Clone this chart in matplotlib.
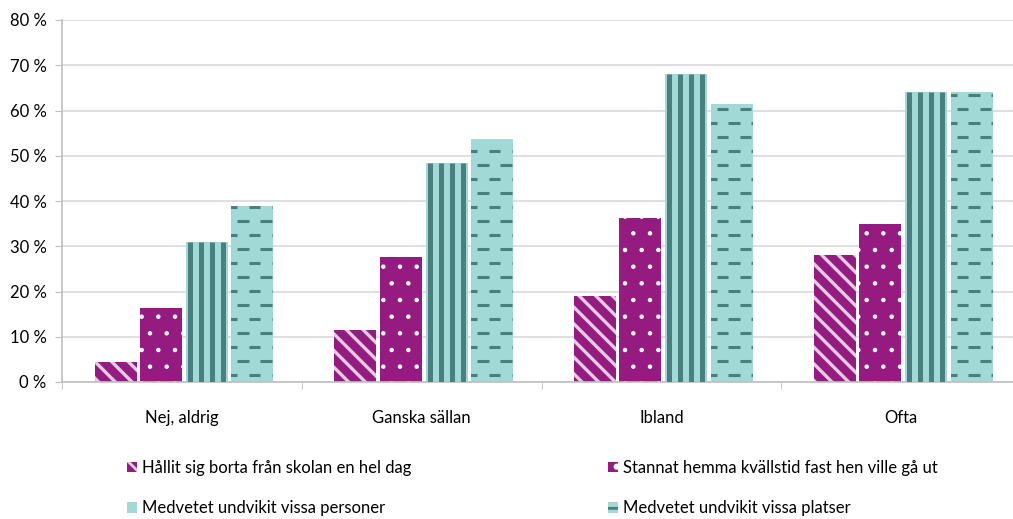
import numpy as np
import matplotlib
matplotlib.use("Agg")
import matplotlib.pyplot as plt
from matplotlib.patches import Patch
from matplotlib.collections import LineCollection

plt.rcParams['font.family'] = ['Lato', 'DejaVu Sans']

# data
kategorier = ["Nej, aldrig", "Ganska sällan", "Ibland", "Ofta"]
hallit_borta = [4.5, 11.5, 19.0, 28.0]
stannat_hemma = [16.3, 27.6, 36.3, 35.0]
undvikit_personer = [31.0, 48.5, 68.0, 64.0]
undvikit_platser = [39.0, 53.7, 61.5, 64.0]
etiketter = ["Hållit sig borta från skolan en hel dag",
             "Stannat hemma kvällstid fast hen ville gå ut",
             "Medvetet undvikit vissa personer",
             "Medvetet undvikit vissa platser"]

lila = "#951B81"
lila_ljus = "#E4CCE2"
teal_ljus = "#A0D9D5"
teal_mork = "#4A7F80"

fig = plt.figure(figsize=(10.13, 5.19), dpi=100)
ax = fig.add_axes([62 / 1013, 1 - 382 / 519, 959 / 1013, 362 / 519])

x = np.arange(len(kategorier))
w = 0.175
offs = [-0.276, -0.088, 0.104, 0.294]

plt.rcParams['hatch.linewidth'] = 2.4
b1 = ax.bar(x + offs[0], hallit_borta, w, color=lila, edgecolor=lila_ljus,
            hatch="\\\\", linewidth=0, zorder=2)
plt.rcParams['hatch.linewidth'] = 0.8
b2 = ax.bar(x + offs[1], stannat_hemma, w, color=lila, edgecolor="white",
            hatch=".", linewidth=0, zorder=2)
b3 = ax.bar(x + offs[2], undvikit_personer, w, color=teal_ljus, linewidth=0, zorder=2)
b4 = ax.bar(x + offs[3], undvikit_platser, w, color=teal_ljus, linewidth=0, zorder=2)

# vertikala ränder
for rect in b3:
    x0 = rect.get_x()
    h = rect.get_height()
    segs = [[(xx, 0), (xx, h)] for xx in np.arange(x0 + 0.017, x0 + w + 0.02, 0.046)]
    lc = LineCollection(segs, colors=teal_mork, linewidths=3.6, zorder=3)
    ax.add_collection(lc)
    lc.set_clip_path(rect)

# streckmönster
for rect in b4:
    x0 = rect.get_x()
    h = rect.get_height()
    segs = []
    for k, yy in enumerate(np.arange(1.5, h, 3.1)):
        start = x0 + 0.025 - (0.048 if k % 2 == 0 else 0)
        for xx in np.arange(start, x0 + w, 0.096):
            segs.append([(xx, yy), (xx + 0.048, yy)])
    lc = LineCollection(segs, colors=teal_mork, linewidths=2.2, zorder=3)
    ax.add_collection(lc)
    lc.set_clip_path(rect)

ax.set_xlim(-0.5, 3.5)
ax.set_ylim(0, 80)
ax.set_yticks(np.arange(0, 81, 10))
ax.set_yticklabels([f"{v} %" for v in range(0, 81, 10)], fontsize=12)
ax.set_xticks(x)
ax.set_xticklabels(kategorier, fontsize=12)
ax.set_xticks(np.arange(-0.5, 4, 1), minor=True)
ax.tick_params(axis='x', which='major', length=0, pad=20)
ax.tick_params(axis='x', which='minor', length=5, color="#BFBFBF")
ax.tick_params(axis='y', length=5, color="#BFBFBF", pad=6)
ax.grid(axis='y', color="#D9D9D9", linewidth=1.2, zorder=0)
ax.set_axisbelow(True)
for s in ["top", "right"]:
    ax.spines[s].set_visible(False)
for s in ["left", "bottom"]:
    ax.spines[s].set_color("#BFBFBF")
    ax.spines[s].set_linewidth(1.2)

plt.rcParams['hatch.linewidth'] = 2.0
h1 = Patch(facecolor=lila, edgecolor=lila_ljus, hatch="\\\\", linewidth=0)
h2 = Patch(facecolor=lila, edgecolor="white", hatch=".", linewidth=0)
h3 = Patch(facecolor=teal_ljus, edgecolor=teal_mork, hatch="|", linewidth=0)
h4 = Patch(facecolor=teal_ljus, edgecolor=teal_mork, hatch="-", linewidth=0)
fig.legend([h1, h3, h2, h4], [etiketter[0], etiketter[2], etiketter[1], etiketter[3]],
           ncol=2, loc="upper left", bbox_to_anchor=(112 / 1013, 1 - 445 / 519),
           frameon=False, fontsize=12, handlelength=0.6, handleheight=0.6,
           handletextpad=0.3, columnspacing=11.8, labelspacing=1.45)

fig.savefig("out.png", dpi=100)
